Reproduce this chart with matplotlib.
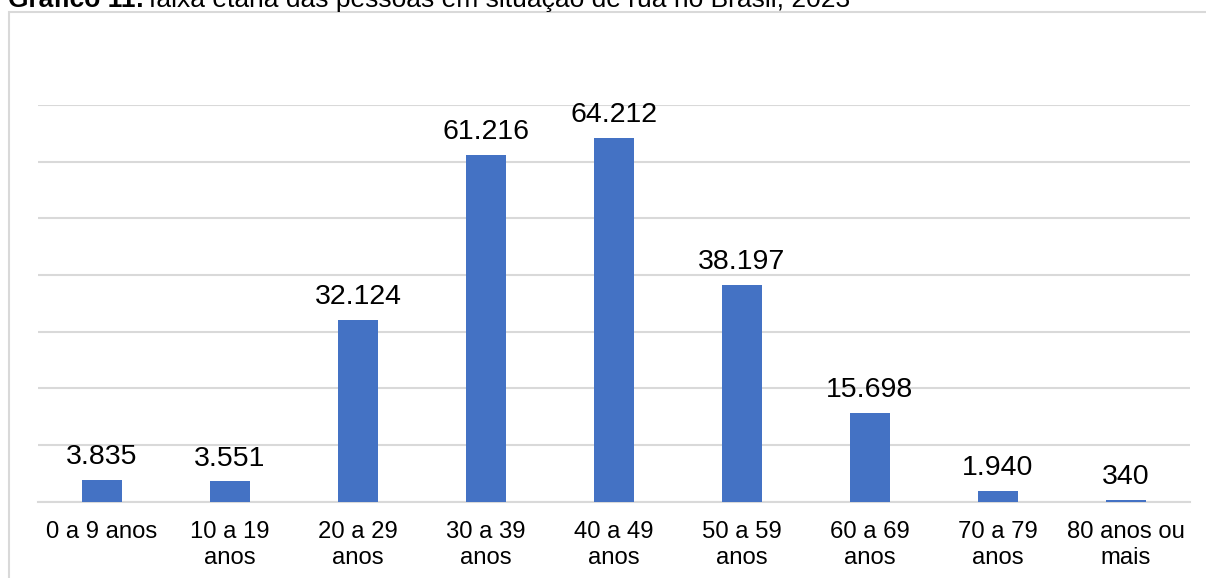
import matplotlib.pyplot as plt
import numpy as np
from matplotlib.patches import Rectangle

plt.rcParams['font.family'] = ['Liberation Sans', 'DejaVu Sans']

# Data
faixas = ['0 a 9 anos', '10 a 19\nanos', '20 a 29\nanos', '30 a 39\nanos', '40 a 49\nanos',
          '50 a 59\nanos', '60 a 69\nanos', '70 a 79\nanos', '80 anos ou\nmais']
pessoas = [3835, 3551, 32124, 61216, 64212, 38197, 15698, 1940, 340]
rotulos = ['3.835', '3.551', '32.124', '61.216', '64.212', '38.197', '15.698', '1.940', '340']

bar_color = '#4472C4'
grid_color = '#d9d9d9'

W, H = 1206, 578
fig = plt.figure(figsize=(W / 100, H / 100), dpi=100)

# axes placement in pixels
left, right, top, bottom = 38, 1190, 105, 501.5
ax = fig.add_axes([left / W, 1 - bottom / H, (right - left) / W, (bottom - top) / H])

x = np.arange(len(faixas))
bars = ax.bar(x, pessoas, width=0.31, color=bar_color, zorder=3)
ax.bar_label(bars, labels=rotulos, padding=7, fontsize=20.5, color='black')

ax.set_xlim(-0.5, len(faixas) - 0.5)
ax.set_ylim(0, 70000)
ax.set_yticks(np.arange(0, 70001, 10000))
ax.yaxis.grid(True, color=grid_color, linewidth=1.5, zorder=0)
ax.tick_params(axis='y', left=False, labelleft=False)
ax.tick_params(axis='x', length=0, pad=14, labelsize=17.2)
ax.set_xticks(x)
ax.set_xticklabels(faixas, linespacing=1.25)
for s in ['top', 'right', 'left']:
    ax.spines[s].set_visible(False)
ax.spines['bottom'].set_color(grid_color)
ax.spines['bottom'].set_linewidth(1.5)

# chart frame
fig.patches.append(Rectangle((8.5 / W, -0.1), 1.2, 1 - 12 / H + 0.1, transform=fig.transFigure,
                             fill=False, edgecolor=grid_color, linewidth=1.5))

# title (partly cut at the top, as in the source)
r = fig.canvas.get_renderer()
t1 = fig.text(8 / W, 1 - 7 / H, 'Gráfico 11:', fontsize=19, fontweight='bold', va='baseline')
bb = t1.get_window_extent(renderer=r)
fig.text(bb.x1 / W + 5 / W, 1 - 7 / H, 'faixa etária das pessoas em situação de rua no Brasil, 2023',
         fontsize=19, va='baseline')

fig.savefig('out.png', dpi=100)
